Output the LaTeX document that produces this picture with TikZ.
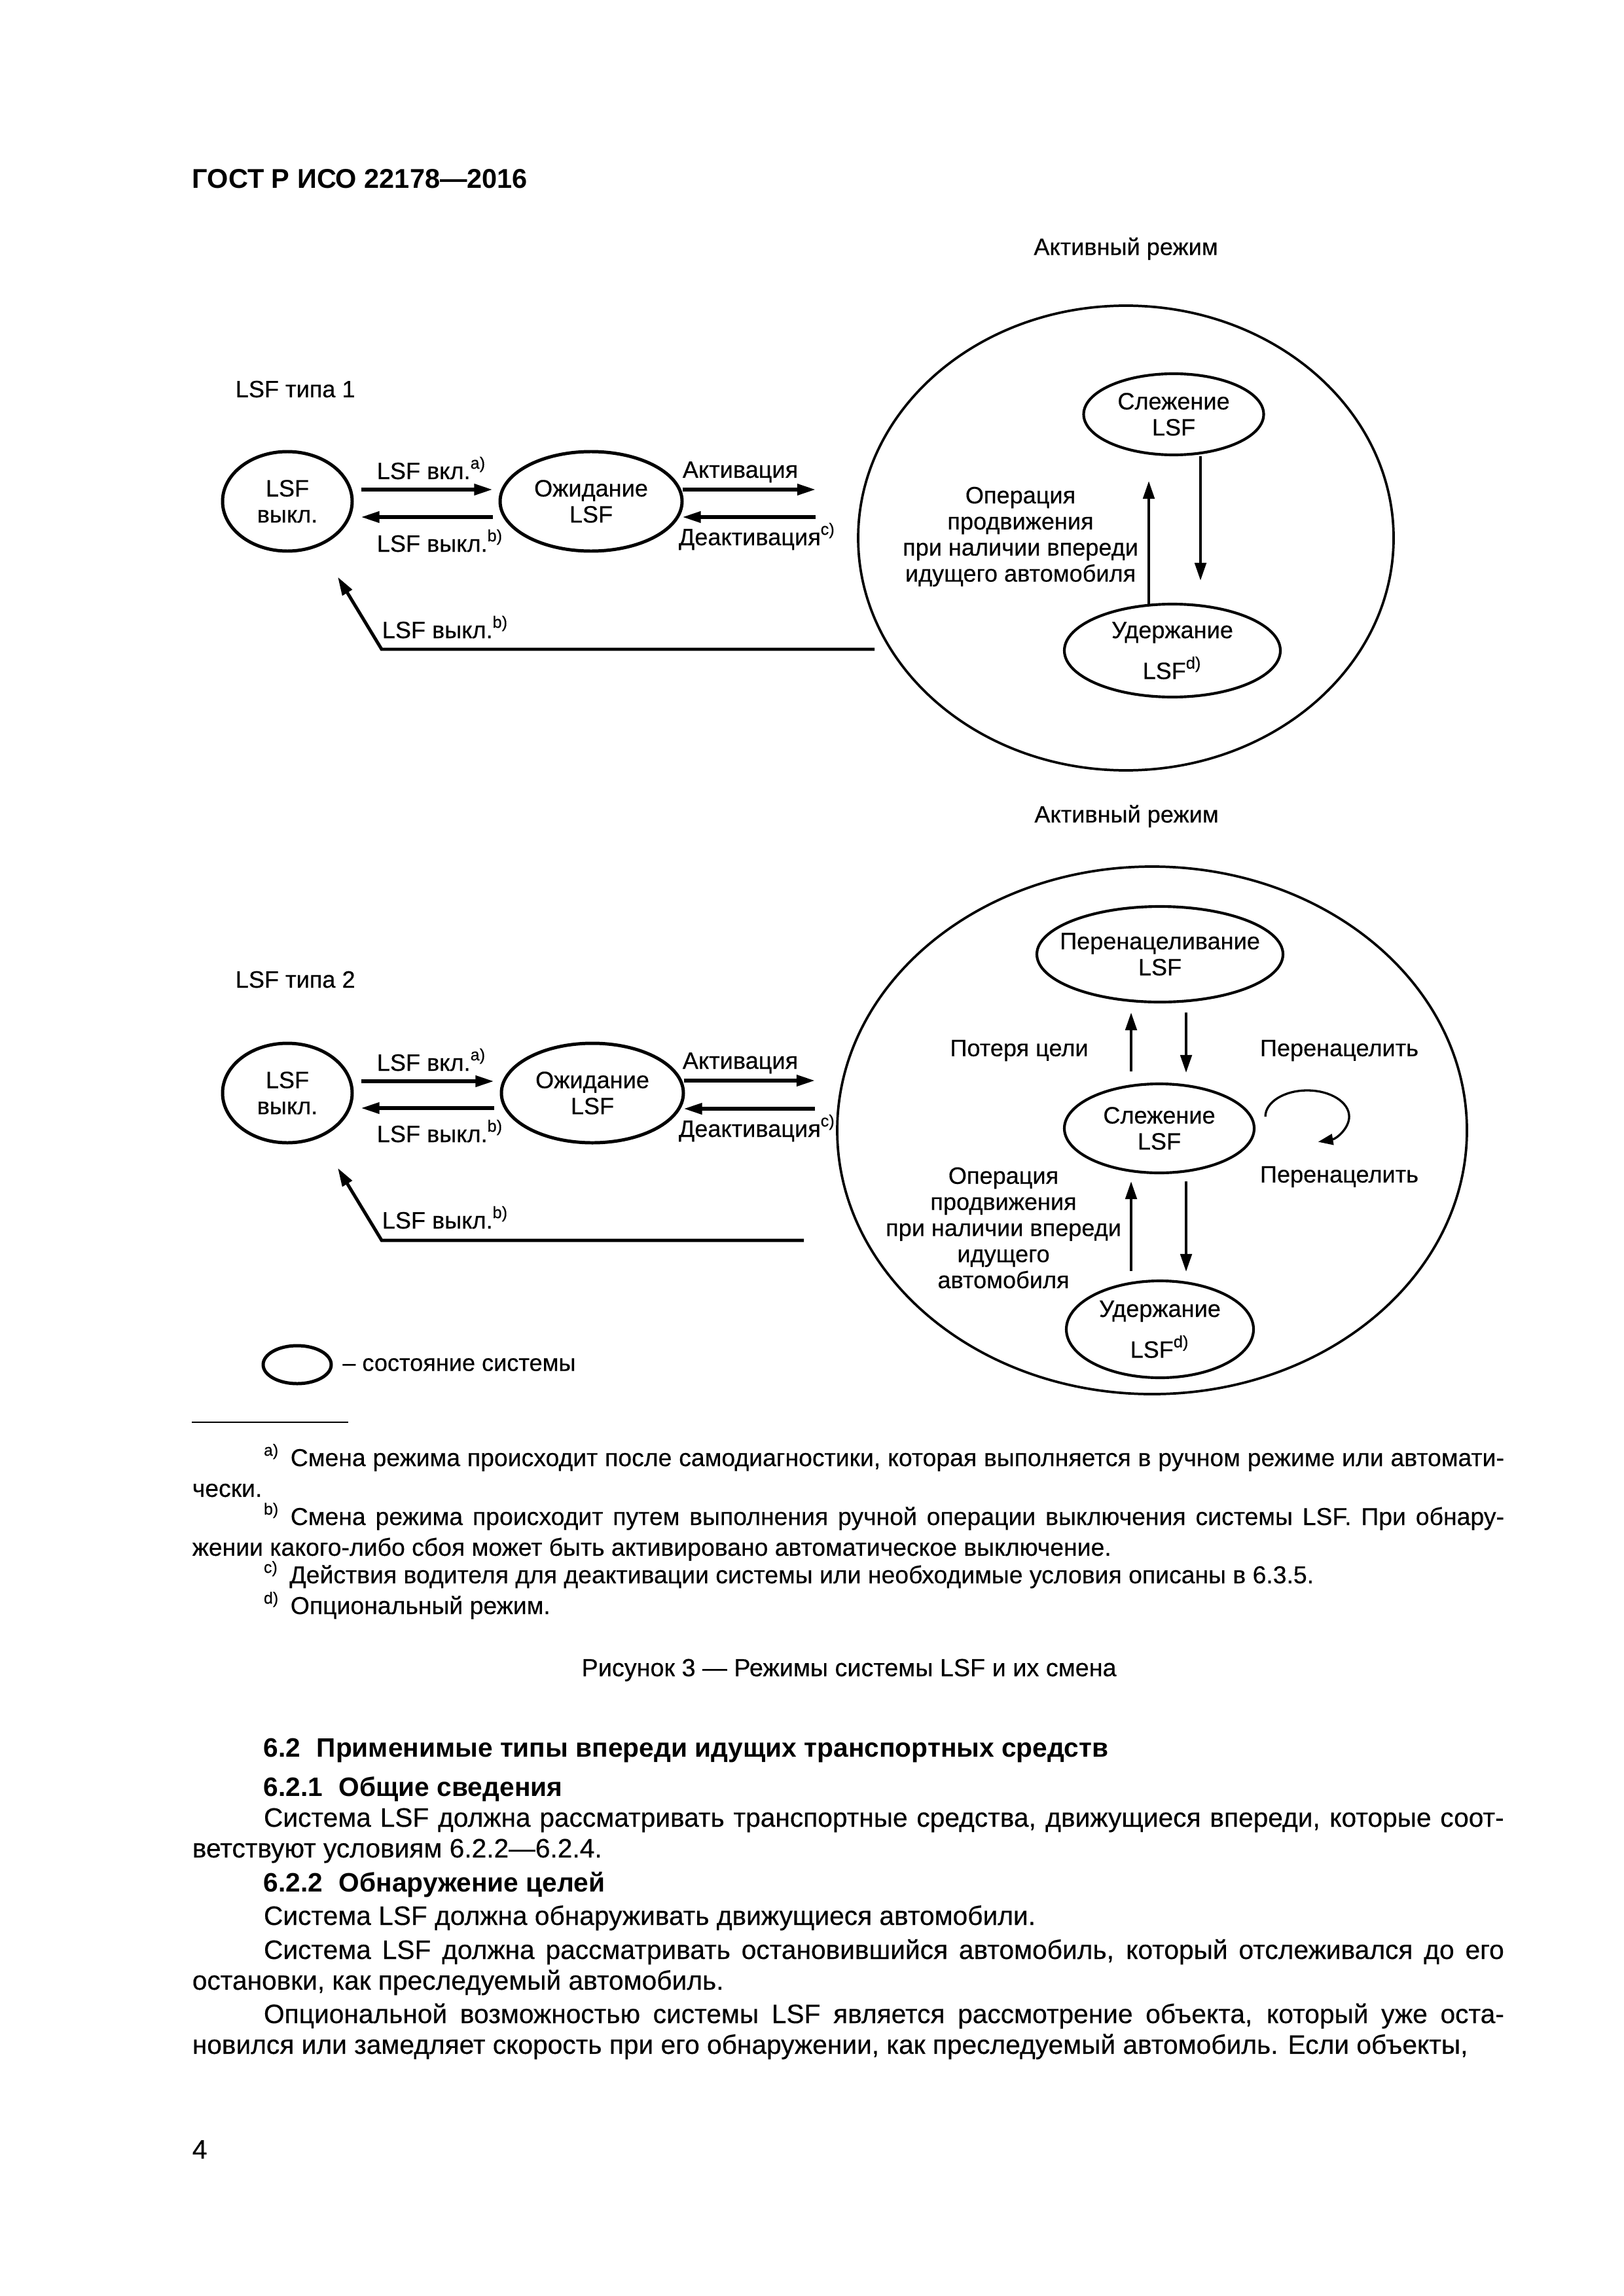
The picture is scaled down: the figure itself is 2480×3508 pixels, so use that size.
\documentclass[tikz,border=0pt]{standalone}
\usepackage{fontspec}
\setmainfont{Liberation Sans}[UprightFeatures={FakeBold=0.35}]
\usetikzlibrary{shapes.geometric,arrows.meta}

\begin{document}
\begin{tikzpicture}
% page of 2480 x 3508 px, one px is 1/300 in
\def\pxsz{0.24088pt}
\providecommand{\figFont}{\fontsize{8.7}{9.6}\selectfont}
\providecommand{\bodyFont}{\fontsize{9.8}{11.3}\selectfont}
\providecommand{\noteFont}{\fontsize{9}{11.3}\selectfont}
\providecommand{\parInd}{26.3pt}
\begin{scope}[x=\pxsz, y=-\pxsz,
  every node/.style={inner sep=0pt, font=\figFont},
  state/.style 2 args={ellipse, draw, line width=1.2pt, align=center,
    minimum width=#1*\pxsz, minimum height=#2*\pxsz},
  substate/.style 2 args={state={#1}{#2}, line width=1pt},
  mode/.style 2 args={state={#1}{#2}, line width=0.9pt},
  fatarrow/.style={line width=1.3pt, -{Triangle[length=6.8pt,width=4pt]}},
  thinarrow/.style={line width=0.9pt, -{Triangle[length=6.5pt,width=4.2pt]}},
  lbl/.style={anchor=base west},
  para/.style={anchor=base west, text width=482.7pt, align=justify, font=\bodyFont},
  note/.style={para, font=\noteFont}]
  % Page
  \fill[white] (0,0) rectangle (2480,3508);
  \node[lbl, font=\bfseries\fontsize{10}{12}\selectfont] (hdr) at (293,288) {ГОСТ Р ИСО 22178—2016};

  % ---- LSF type 1 ----
  \node (mode1lbl) at (1720,380) {Активный режим};
  \node[lbl] (type1) at (359,607) {LSF типа 1};
  \node[state={198}{152}] (off1) at (439,766) {LSF\\выкл.};
  \node[state={278}{152}] (wait1) at (903,766) {Ожидание\\LSF};
  \node[mode={818}{710}] (act1) at (1720,822) {};
  \node[substate={275}{124}] (track1) at (1793,633) {Слежение\\LSF};
  \node[substate={330}{142}] (hold1) at (1791,994) {Удержание\\[4pt]LSF\textsuperscript{d)}};
  \coordinate (actin1) at (1246,748);
  \coordinate (actout1) at (1246,790);
  \coordinate (ret1) at (1336,992);
  \coordinate (corner1) at (583,992);
  % transitions
  \draw[fatarrow] ([shift={(11,-18)}]off1.east) -- ([shift={(-9,-18)}]wait1.west);
  \draw[fatarrow] ([shift={(-9,24)}]wait1.west) -- ([shift={(11,24)}]off1.east);
  \draw[fatarrow] ([shift={(-2,-18)}]wait1.east) -- (actin1);
  \draw[fatarrow] (actout1) -- ([shift={(-2,24)}]wait1.east);
  \draw[fatarrow, line width=1.2pt] (ret1) -- (corner1) -- ([shift={(77,37)}]off1.south);
  \draw[thinarrow] ([shift={(41,0)}]track1.south) -- ([shift={(43,-34)}]hold1.north);
  \draw[thinarrow] ([shift={(-36,2)}]hold1.north) -- ([shift={(-38,38)}]track1.south);
  % labels
  \node[lbl] (on1) at (575,732) {LSF вкл.\textsuperscript{a)}};
  \node[lbl] (offlbl1) at (575,843) {LSF выкл.\textsuperscript{b)}};
  \node[lbl] (actlbl1) at (1042,730) {Активация};
  \node[lbl] (deactlbl1) at (1036,833) {Деактивация\textsuperscript{c)}};
  \node[lbl] (retlbl1) at (583,975) {LSF выкл.\textsuperscript{b)}};
  \node[align=center] (push1) at (1559,820) {Операция\\продвижения\\при наличии впереди\\идущего автомобиля};

  % ---- LSF type 2 ----
  \node (mode2lbl) at (1721,1247) {Активный режим};
  \node[lbl] (type2) at (359,1509) {LSF типа 2};
  \node[state={198}{152}] (off2) at (439,1670) {LSF\\выкл.};
  \node[state={278}{152}] (wait2) at (905,1670) {Ожидание\\LSF};
  \node[mode={962}{806}] (act2) at (1760,1727) {};
  \node[substate={376}{146}, inner xsep=-6pt] (retarget2) at (1772,1458) {Перенацеливание\\LSF};
  \node[substate={290}{136}] (track2) at (1771,1724) {Слежение\\LSF};
  \node[substate={286}{148}] (hold2) at (1772,2031) {Удержание\\[4pt]LSF\textsuperscript{d)}};
  \coordinate (actin2) at (1245,1651);
  \coordinate (actout2) at (1245,1694);
  \coordinate (ret2) at (1228,1895);
  \coordinate (corner2) at (583,1895);
  % transitions
  \draw[fatarrow] ([shift={(11,-18)}]off2.east) -- ([shift={(-9,-18)}]wait2.west);
  \draw[fatarrow] ([shift={(-9,23)}]wait2.west) -- ([shift={(11,23)}]off2.east);
  \draw[fatarrow] ([shift={(-2,-19)}]wait2.east) -- (actin2);
  \draw[fatarrow] (actout2) -- ([shift={(-2,24)}]wait2.east);
  \draw[fatarrow, line width=1.2pt] (ret2) -- (corner2) -- ([shift={(77,36)}]off2.south);
  \draw[thinarrow] ([shift={(-43,-17)}]track2.north) -- ([shift={(-44,14)}]retarget2.south);
  \draw[thinarrow] ([shift={(40,14)}]retarget2.south) -- ([shift={(41,-15)}]track2.north);
  \draw[thinarrow] ([shift={(-44,-13)}]hold2.north) -- ([shift={(-43,11)}]track2.south);
  \draw[thinarrow] ([shift={(41,11)}]track2.south) -- ([shift={(40,-12)}]hold2.north);
  \draw[line width=0.8pt, -{Triangle[length=5.5pt,width=4pt]}]
    ([shift={(15,-18)}]track2.east) arc[start angle=180, end angle=435, x radius=64, y radius=40];
  % labels
  \node[lbl] (on2) at (575,1636) {LSF вкл.\textsuperscript{a)}};
  \node[lbl] (offlbl2) at (575,1745) {LSF выкл.\textsuperscript{b)}};
  \node[lbl] (actlbl2) at (1042,1633) {Активация};
  \node[lbl] (deactlbl2) at (1036,1737) {Деактивация\textsuperscript{c)}};
  \node[lbl] (retlbl2) at (583,1877) {LSF выкл.\textsuperscript{b)}};
  \node (lost2) at (1557,1605) {Потеря цели};
  \node (retgt2a) at (2046,1605) {Перенацелить};
  \node (retgt2b) at (2046,1798) {Перенацелить};
  \node[align=center] (push2) at (1533,1876) {Операция\\продвижения\\при наличии впереди\\идущего\\автомобиля};

  % ---- Legend ----
  \node[state={104}{58}] (legend) at (454,2085) {};
  \node[anchor=west] (legendlbl) at ([shift={(14,0)}]legend.east) {– состояние системы};

  % ---- Footnotes ----
  \draw[line width=0.5pt] (293,2173) -- (532,2173);
  \node[note] (fna) at (293,2240) {\hspace*{\parInd}\textsuperscript{a)}\hspace{4pt}Смена режима происходит после самодиагностики, которая выполняется в ручном режиме или автомати-\linebreak чески.};
  \node[note] (fnb) at (293,2330) {\hspace*{\parInd}\textsuperscript{b)}\hspace{4pt}Смена режима происходит путем выполнения ручной операции выключения системы LSF. При обнару-\linebreak жении какого-либо сбоя может быть активировано автоматическое выключение.};
  \node[note] (fnc) at (293,2419) {\hspace*{\parInd}\textsuperscript{c)}\hspace{4pt}Действия водителя для деактивации системы или необходимые условия описаны в 6.3.5.};
  \node[note] (fnd) at (293,2466) {\hspace*{\parInd}\textsuperscript{d)}\hspace{4pt}Опциональный режим.};
  \node[anchor=base, font=\fontsize{9.1}{11}\selectfont] (caption) at (1297,2561) {Рисунок 3 — Режимы системы LSF и их смена};

  % ---- Body text ----
  \node[lbl, font=\bfseries\bodyFont] (h62) at (402,2684) {6.2\hspace{0.6em}Применимые типы впереди идущих транспортных средств};
  \node[lbl, font=\bfseries\bodyFont] (h621) at (402,2744) {6.2.1\hspace{0.6em}Общие сведения};
  \node[para] (p1) at (293,2791) {\hspace*{\parInd}Система LSF должна рассматривать транспортные средства, движущиеся впереди, которые соот-\linebreak ветствуют условиям 6.2.2—6.2.4.};
  \node[lbl, font=\bfseries\bodyFont] (h622) at (402,2890) {6.2.2\hspace{0.6em}Обнаружение целей};
  \node[para] (p2) at (293,2941) {\hspace*{\parInd}Система LSF должна обнаруживать движущиеся автомобили.};
  \node[para] (p3) at (293,2993) {\hspace*{\parInd}Система LSF должна рассматривать остановившийся автомобиль, который отслеживался до его\linebreak остановки, как преследуемый автомобиль.};
  \node[para] (p4) at (293,3091) {\parfillskip=0pt \hspace*{\parInd}Опциональной возможностью системы LSF является рассмотрение объекта, который уже оста-\linebreak новился или замедляет скорость при его обнаружении, как преследуемый автомобиль. Если объекты,};
  \node[lbl, font=\bodyFont] (pageno) at (293,3298) {4};
\end{scope}
\end{tikzpicture}
\end{document}
